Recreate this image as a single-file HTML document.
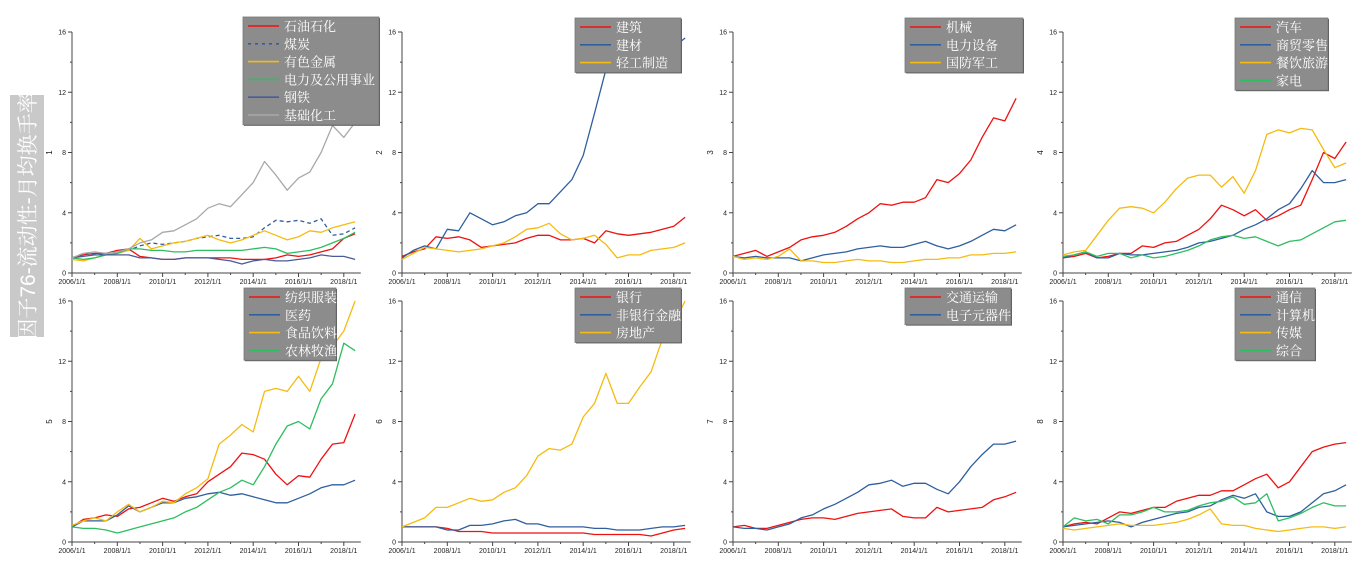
<!DOCTYPE html>
<html><head><meta charset="utf-8">
<style>
html,body{margin:0;padding:0;background:#fff;width:1365px;height:561px;overflow:hidden;font-family:"Liberation Sans","Noto Sans CJK SC",sans-serif;}
#title{position:absolute;left:10px;top:95px;width:34px;height:242px;background:#c9c9c9;}
#title span{position:absolute;left:17px;top:121px;transform:translate(-50%,-50%) rotate(-90deg);white-space:nowrap;color:#fff;font-size:21px;font-family:"Liberation Sans","Noto Serif CJK SC",sans-serif;}
svg{position:absolute;left:0;top:0;}
</style></head><body>
<div id="title"><span>因子76-流动性-月均换手率</span></div>
<svg id="chart" width="1365" height="561"></svg>
<script>
const dates=[2006,2006.5,2007,2007.5,2008,2008.5,2009,2009.5,2010,2010.5,2011,2011.5,2012,2012.5,2013,2013.5,2014,2014.5,2015,2015.5,2016,2016.5,2017,2017.5,2018,2018.5];
const yTicks=[0,4,8,12,16];
const xTickYears=[2006,2008,2010,2012,2014,2016,2018];
const xTickLabels=["2006/1/1","2008/1/1","2010/1/1","2012/1/1","2014/1/1","2016/1/1","2018/1/1"];
const panelTitles=["1","2","3","4","5","6","7","8"];
const p1Names=["石油石化","煤炭","有色金属","电力及公用事业","钢铁","基础化工"];
const p1A=[1,1.2,1.3,1.3,1.5,1.6,1.1,1.0,0.9,0.9,1.0,1.0,1.0,1.0,1.0,0.9,0.9,0.9,1.0,1.2,1.1,1.2,1.4,1.6,2.3,2.6];
const p1B=[1,1.3,1.2,1.3,1.4,1.5,1.8,2.0,1.9,2.0,2.1,2.3,2.4,2.5,2.3,2.3,2.4,3.0,3.5,3.4,3.5,3.3,3.6,2.5,2.6,3.0];
const p1C=[0.9,0.8,1.0,1.2,1.3,1.5,2.3,1.6,1.8,2.0,2.1,2.3,2.5,2.2,2.0,2.2,2.5,2.8,2.5,2.2,2.4,2.8,2.7,3.0,3.2,3.4];
const p1D=[1,0.9,1.0,1.2,1.3,1.6,1.6,1.5,1.5,1.4,1.4,1.5,1.5,1.5,1.5,1.5,1.6,1.7,1.6,1.3,1.4,1.5,1.7,2.0,2.3,2.7];
const p1E=[1,1.1,1.2,1.2,1.2,1.2,1.0,1.0,0.9,0.9,1.0,1.0,1.0,0.9,0.8,0.6,0.8,0.9,0.8,0.8,0.9,1.0,1.2,1.1,1.1,0.9];
const p1F=[1,1.3,1.4,1.3,1.4,1.6,2.0,2.2,2.7,2.8,3.2,3.6,4.3,4.6,4.4,5.2,6.0,7.4,6.5,5.5,6.3,6.7,8.0,9.8,9.0,10.0];
const p2Names=["建筑","建材","轻工制造"];
const p2A=[1.1,1.4,1.6,2.4,2.3,2.4,2.2,1.7,1.8,1.9,2.0,2.3,2.5,2.5,2.2,2.2,2.3,2.0,2.8,2.6,2.5,2.6,2.7,2.9,3.1,3.7];
const p2B=[1,1.5,1.8,1.6,2.9,2.8,4.0,3.6,3.2,3.4,3.8,4.0,4.6,4.6,5.4,6.2,7.8,10.6,13.5,14.8,14.5,14.0,13.5,15.0,15.0,15.6];
const p2C=[0.9,1.3,1.7,1.6,1.5,1.4,1.5,1.6,1.8,2.0,2.4,2.9,3.0,3.3,2.6,2.2,2.3,2.5,1.9,1.0,1.2,1.2,1.5,1.6,1.7,2.0];
const p3Names=["机械","电力设备","国防军工"];
const p3A=[1.1,1.3,1.5,1.1,1.4,1.7,2.2,2.4,2.5,2.7,3.1,3.6,4.0,4.6,4.5,4.7,4.7,5.0,6.2,6.0,6.6,7.5,9.0,10.3,10.1,11.6];
const p3B=[1.1,1.0,1.1,1.0,1.0,1.0,0.8,1.0,1.2,1.3,1.4,1.6,1.7,1.8,1.7,1.7,1.9,2.1,1.8,1.6,1.8,2.1,2.5,2.9,2.8,3.2];
const p3C=[1.1,0.9,1.0,0.9,1.1,1.6,0.8,0.8,0.7,0.7,0.8,0.9,0.8,0.8,0.7,0.7,0.8,0.9,0.9,1.0,1.0,1.2,1.2,1.3,1.3,1.4];
const p4Names=["汽车","商贸零售","餐饮旅游","家电"];
const p4A=[1,1.1,1.3,1.0,1.1,1.3,1.3,1.8,1.7,2.0,2.1,2.5,2.9,3.6,4.5,4.2,3.8,4.2,3.5,3.8,4.2,4.5,6.2,8.0,7.6,8.7];
const p4B=[1,1.2,1.4,1.0,1.0,1.3,1.2,1.2,1.3,1.4,1.5,1.7,2.0,2.1,2.3,2.5,2.9,3.2,3.6,4.2,4.6,5.6,6.8,6.0,6.0,6.2];
const p4C=[1.2,1.4,1.5,2.5,3.5,4.3,4.4,4.3,4.0,4.7,5.6,6.3,6.5,6.5,5.7,6.4,5.3,6.8,9.2,9.5,9.3,9.6,9.5,8.2,7.0,7.3];
const p4D=[1.1,1.2,1.4,1.1,1.3,1.3,1.0,1.2,1.0,1.1,1.3,1.5,1.8,2.2,2.4,2.5,2.3,2.4,2.1,1.8,2.1,2.2,2.6,3.0,3.4,3.5];
const p5Names=["纺织服装","医药","食品饮料","农林牧渔"];
const p5A=[1,1.5,1.6,1.8,1.7,2.2,2.3,2.6,2.9,2.7,3.0,3.2,4.0,4.5,5.0,5.9,5.8,5.5,4.5,3.8,4.4,4.3,5.5,6.5,6.6,8.5];
const p5B=[1,1.4,1.4,1.4,1.8,2.4,2.0,2.3,2.6,2.6,2.9,3.0,3.2,3.3,3.1,3.2,3.0,2.8,2.6,2.6,2.9,3.2,3.6,3.8,3.8,4.1];
const p5C=[1.1,1.4,1.6,1.4,2.0,2.5,2.0,2.3,2.7,2.6,3.2,3.6,4.2,6.5,7.1,7.8,7.3,10.0,10.2,10.0,11.0,10.0,12.2,13.0,14.0,16.0];
const p5D=[1,0.9,0.9,0.8,0.6,0.8,1.0,1.2,1.4,1.6,2.0,2.3,2.8,3.3,3.6,4.1,3.8,5.0,6.5,7.7,8.0,7.5,9.5,10.5,13.2,12.7];
const p6Names=["银行","非银行金融","房地产"];
const p6A=[1,1,1,1,0.9,0.7,0.7,0.7,0.6,0.6,0.6,0.6,0.6,0.6,0.6,0.6,0.6,0.5,0.5,0.5,0.5,0.5,0.4,0.6,0.8,0.9];
const p6B=[1,1,1,1,0.8,0.8,1.1,1.1,1.2,1.4,1.5,1.2,1.2,1.0,1.0,1.0,1.0,0.9,0.9,0.8,0.8,0.8,0.9,1.0,1.0,1.1];
const p6C=[1,1.3,1.6,2.3,2.3,2.6,2.9,2.7,2.8,3.3,3.6,4.4,5.7,6.2,6.1,6.5,8.3,9.2,11.2,9.2,9.2,10.3,11.3,13.5,14.5,16.0];
const p7Names=["交通运输","电子元器件"];
const p7A=[1,1.1,0.9,0.9,1.1,1.3,1.5,1.6,1.6,1.5,1.7,1.9,2.0,2.1,2.2,1.7,1.6,1.6,2.3,2.0,2.1,2.2,2.3,2.8,3.0,3.3];
const p7B=[1,0.9,0.9,0.8,1.0,1.2,1.6,1.8,2.2,2.5,2.9,3.3,3.8,3.9,4.1,3.7,3.9,3.9,3.5,3.2,4.0,5.0,5.8,6.5,6.5,6.7];
const p8Names=["通信","计算机","传媒","综合"];
const p8A=[1,1.2,1.3,1.2,1.6,2.0,1.9,2.1,2.3,2.3,2.7,2.9,3.1,3.1,3.4,3.4,3.8,4.2,4.5,3.6,4.0,5.0,6.0,6.3,6.5,6.6];
const p8B=[1,1.1,1.2,1.3,1.4,1.3,1.0,1.3,1.5,1.7,1.9,2.0,2.3,2.4,2.8,3.1,2.9,3.2,2.0,1.7,1.7,2.0,2.6,3.2,3.4,3.8];
const p8C=[0.9,0.8,0.9,1.0,1.1,1.2,1.1,1.1,1.1,1.2,1.3,1.5,1.8,2.2,1.2,1.1,1.1,0.9,0.8,0.7,0.8,0.9,1.0,1.0,0.9,1.0];
const p8D=[1,1.6,1.4,1.5,1.2,1.8,1.8,2.0,2.3,2.0,2.0,2.1,2.4,2.6,2.7,3.0,2.5,2.6,3.2,1.4,1.6,1.9,2.3,2.6,2.4,2.4];

const RED="#ee1111",BLUE="#2f5f9e",YEL="#f5bb10",GRN="#2dbe60",NAVY="#4a5a9a",GRAY="#a8a8a8";
const panels=[
 {names:p1Names,series:[p1A,p1B,p1C,p1D,p1E,p1F],colors:[RED,BLUE,YEL,GRN,NAVY,GRAY],dash:[0,1,0,0,0,0],leg:[243,17,136]},
 {names:p2Names,series:[p2A,p2B,p2C],colors:[RED,BLUE,YEL],leg:[575,18,106]},
 {names:p3Names,series:[p3A,p3B,p3C],colors:[RED,BLUE,YEL],leg:[905,18,118]},
 {names:p4Names,series:[p4A,p4B,p4C,p4D],colors:[RED,BLUE,YEL,GRN],leg:[1235,18,93]},
 {names:p5Names,series:[p5A,p5B,p5C,p5D],colors:[RED,BLUE,YEL,GRN],leg:[244,288,92]},
 {names:p6Names,series:[p6A,p6B,p6C],colors:[RED,BLUE,YEL],leg:[575,288,106]},
 {names:p7Names,series:[p7A,p7B],colors:[RED,BLUE],leg:[905,288,106]},
 {names:p8Names,series:[p8A,p8B,p8C,p8D],colors:[RED,BLUE,YEL,GRN],leg:[1235,288,80]}
];
const colX=[72,402,733,1063], rowTop=[32,301], rowBot=[273,542];
const NS="http://www.w3.org/2000/svg";
const svg=document.getElementById('chart');
function mk(tag,attrs,parent){const e=document.createElementNS(NS,tag);for(const k in attrs)e.setAttribute(k,attrs[k]);(parent||svg).appendChild(e);return e;}
panels.forEach((p,i)=>{
  const c=i%4,r=Math.floor(i/4);
  const x0=colX[c],top=rowTop[r],bot=rowBot[r];
  const pxYr=22.65;
  const xs=v=>x0+(v-2006)*pxYr;
  const ys=v=>bot-(v/16)*(bot-top);
  const g=mk('g',{});
  
  
  const ax=mk('path',{d:`M${x0},${top} V${bot} H${xs(2018.75)}`,stroke:'#444',fill:'none','stroke-width':1},g);
  
  
  for(let v=0;v<=16;v+=2){
    mk('line',{x1:x0-(v%4==0?4:2),x2:x0,y1:ys(v),y2:ys(v),stroke:'#444','stroke-width':1},g);
  }
  yTicks.forEach(v=>{
    const t=mk('text',{x:x0-6,y:ys(v)+2.5,'font-size':7,'text-anchor':'end',fill:'#222'},g);
    t.textContent=v;
    
    
  });
  for(let yr=2006;yr<=2018;yr++){
    mk('line',{x1:xs(yr),x2:xs(yr),y1:bot,y2:bot+(yr%2==0?4:2),stroke:'#444','stroke-width':1},g);
  }
  xTickYears.forEach((yr,k)=>{
    const t=mk('text',{x:xs(yr),y:bot+11,'font-size':7,'text-anchor':'middle',fill:'#222'},g);
    t.textContent=xTickLabels[k];
    
    
  });
  const yt=mk('text',{x:0,y:0,'font-size':8,'text-anchor':'middle',fill:'#222',transform:`translate(${x0-20},${(top+bot)/2}) rotate(-90)`},g);
  yt.textContent=panelTitles[i];
  
  
  p.series.forEach((s,k)=>{
    const d=s.map((v,j)=>(j?'L':'M')+xs(dates[j]).toFixed(1)+','+ys(v).toFixed(1)).join(' ');
    const attrs={d:d,stroke:p.colors[k],fill:'none','stroke-width':1.3,'stroke-linejoin':'round'};
    if(p.dash&&p.dash[k])attrs['stroke-dasharray']='4,3';
    const l=mk('path',attrs,g);
    
    
  });
  const [lx,ly,lw]=p.leg; const rh=17.8; const lh=p.names.length*rh+1;
  const lg=mk('g',{},g);
  
  
  mk('rect',{x:lx+1,y:ly+1,width:lw,height:lh,fill:'#555'},lg);
  mk('rect',{x:lx,y:ly,width:lw,height:lh,fill:'#8c8c8c',stroke:'#777','stroke-width':0.8},lg);
  p.names.forEach((n,k)=>{
    const cy=ly+9+k*rh;
    const ln=mk('line',{x1:lx+5,x2:lx+36,y1:cy,y2:cy,stroke:p.colors[k],'stroke-width':1.6},lg);
    if(p.dash&&p.dash[k])ln.setAttribute('stroke-dasharray','3,4');
    const t=mk('text',{x:lx+41,y:cy+5,'font-size':13,fill:'#fff','font-family':'"Liberation Serif","Noto Serif CJK SC",serif'},lg);
    t.textContent=n;
    
    
  });
});
</script>
</body></html>
